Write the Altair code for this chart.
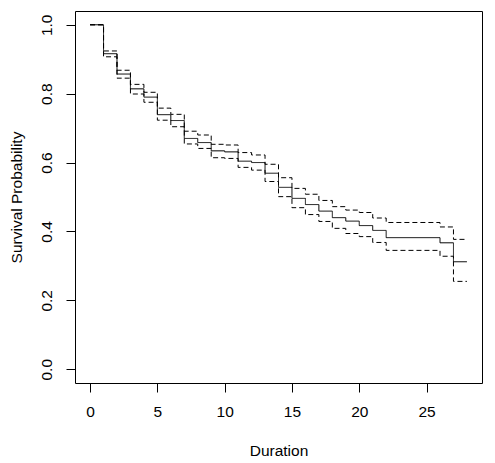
import altair as alt
import pandas as pd

# Kaplan-Meier estimate with confidence bounds
times = [0, 1, 2, 3, 4, 5, 6, 7, 8, 9, 10, 11, 12, 13, 14, 15, 16, 17, 18, 19, 20, 21, 22, 26, 27, 28]
surv = [1.0, 0.916, 0.857, 0.814, 0.790, 0.739, 0.722, 0.670, 0.658, 0.634, 0.631, 0.604, 0.600,
        0.569, 0.528, 0.496, 0.478, 0.459, 0.440, 0.430, 0.417, 0.403, 0.382, 0.367, 0.312, 0.312]
upper = [1.0, 0.924, 0.868, 0.827, 0.804, 0.758, 0.740, 0.691, 0.680, 0.653, 0.651, 0.629, 0.622,
         0.595, 0.556, 0.525, 0.508, 0.490, 0.472, 0.462, 0.455, 0.439, 0.426, 0.413, 0.377, 0.377]
lower = [1.0, 0.907, 0.845, 0.799, 0.775, 0.723, 0.704, 0.654, 0.641, 0.614, 0.612, 0.586, 0.578,
         0.545, 0.501, 0.469, 0.449, 0.429, 0.409, 0.394, 0.385, 0.368, 0.345, 0.328, 0.255, 0.255]

x_ticks = [0, 5, 10, 15, 20, 25]
y_ticks = [0.0, 0.2, 0.4, 0.6, 0.8, 1.0]

rows = []
for name, vals, style in [("lower", lower, "dashed"), ("upper", upper, "dashed"), ("surv", surv, "solid")]:
    for t, v in zip(times, vals):
        rows.append({"t": t, "p": v, "series": name, "style": style})
df = pd.DataFrame(rows)

FONT = "Liberation Sans"

chart = alt.Chart(df).mark_line(interpolate="step-after", strokeWidth=1, color="black").encode(
    x=alt.X("t:Q", title="Duration",
            scale=alt.Scale(domain=[-1.12, 29.12], nice=False, zero=False),
            axis=alt.Axis(values=x_ticks, format="d", labelPadding=12, titlePadding=24)),
    y=alt.Y("p:Q", title="Survival Probability",
            scale=alt.Scale(domain=[-0.04, 1.04], nice=False, zero=False),
            axis=alt.Axis(values=y_ticks, format=".1f", labelAngle=270, labelAlign="center",
                          labelBaseline="bottom", labelPadding=12, titlePadding=15)),
    detail="series:N",
    strokeDash=alt.StrokeDash("style:N", legend=None,
                              scale=alt.Scale(domain=["solid", "dashed"], range=[[1, 0], [5, 3]])),
).properties(
    width=407, height=372,
    background="white",
    autosize=alt.AutoSizeParams(type="none"),
    padding={"left": 67, "top": 3, "right": 5, "bottom": 80},
).configure_view(
    stroke="black", strokeWidth=1
).configure_axis(
    domain=False, grid=False, ticks=True, tickColor="black", tickSize=9, tickWidth=1,
    labelFont=FONT, labelFontSize=15.5, labelColor="black",
    titleFont=FONT, titleFontSize=15.5, titleFontWeight="normal", titleColor="black",
)

chart.save("out.html", embed_options={"renderer": "svg", "actions": False})
